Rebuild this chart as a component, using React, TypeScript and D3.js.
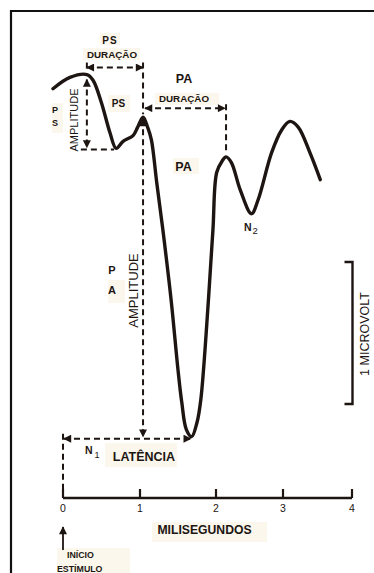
import React from 'react';
import * as d3 from 'd3';

// Evoked potential trace: time after stimulus (ms) and amplitude (µV)
const timeMs = [
  -0.13, 0.09, 0.31, 0.39, 0.5, 0.61, 0.69, 0.78, 0.91, 0.97,
  1.04, 1.1, 1.15, 1.22, 1.3, 1.41, 1.5, 1.55, 1.61, 1.68,
  1.75, 1.8, 1.9, 1.96, 2.01, 2.09, 2.15, 2.23, 2.36, 2.53,
  2.63, 2.83, 2.98, 3.1, 3.22, 3.39, 3.54,
];
const microvolts = [
  2.22, 2.3, 2.32, 2.28, 2.12, 1.91, 1.8, 1.85, 1.89, 1.95,
  2.02, 1.95, 1.86, 1.56, 1.23, 0.73, 0.24, 0.01, -0.18, -0.23,
  -0.13, 0.03, 0.73, 1.23, 1.63, 1.71, 1.74, 1.7, 1.51, 1.34,
  1.44, 1.77, 1.93, 1.99, 1.95, 1.77, 1.58,
];

const xTicks = [0, 1, 2, 3, 4];
const xTickLabels = ['0', '1', '2', '3', '4'];
const scaleBarMicrovolts = [0, 1];

// indices of the landmarks on the trace
const PS_PEAK = 2;
const PS_TROUGH = 6;
const PA_ONSET = 10;
const PA_TROUGH = 19;
const PA_PEAK = 26;
const N2_TROUGH = 29;

const INK = '#1d1512';
const CREAM = '#fbf7ec';
const FONT = '"Liberation Sans", Arial, Helvetica, sans-serif';

export default function App() {
  const W = 374;
  const H = 573;

  // hand-ruled time axis: tick spacing is not perfectly even
  const x = d3.scaleLinear().domain(xTicks).range([63, 140, 216, 283, 352]);
  const y = d3.scaleLinear().domain(scaleBarMicrovolts).range([404, 262]);

  const pts: [number, number][] = timeMs.map((t, i) => [t, microvolts[i]]);
  const line = d3
    .line<[number, number]>()
    .x((d) => x(d[0]))
    .y((d) => y(d[1]))
    .curve(d3.curveCatmullRom.alpha(0.5));

  const px = (i: number) => x(timeMs[i]);
  const py = (i: number) => y(microvolts[i]);

  const axisY = 498;
  const x0 = x(0);

  const psPeakX = px(PS_PEAK);
  const psPeakY = py(PS_PEAK);
  const psTroughX = px(PS_TROUGH);
  const psTroughY = py(PS_TROUGH);
  const paOnsetX = px(PA_ONSET);
  const paOnsetY = py(PA_ONSET);
  const paTroughX = px(PA_TROUGH);
  const paTroughY = py(PA_TROUGH);
  const paPeakX = px(PA_PEAK);
  const paPeakY = py(PA_PEAK);
  const n2X = px(N2_TROUGH);
  const n2Y = py(N2_TROUGH);

  const psDurY = psPeakY - 7;
  const paDurY = paOnsetY - 9;
  const latY = paTroughY + 2;

  const dash = { stroke: INK, strokeWidth: 2, strokeDasharray: '6 4', fill: 'none' } as const;
  const arrows = { markerStart: 'url(#arrow)', markerEnd: 'url(#arrow)' };

  const bold = { fontFamily: FONT, fontWeight: 700, fill: INK } as const;
  const reg = { fontFamily: FONT, fontWeight: 400, fill: INK } as const;

  const barX = 352.5;

  return (
    <svg
      width={W}
      height={H}
      viewBox={`0 0 ${W} ${H}`}
      style={{ position: 'absolute', left: 0, top: 0, background: '#fff' }}
    >
      <defs>
        <marker
          id="arrow"
          viewBox="0 0 10 10"
          refX="9"
          refY="5"
          markerWidth="9"
          markerHeight="8"
          markerUnits="userSpaceOnUse"
          orient="auto-start-reverse"
        >
          <path d="M0,0 L10,5 L0,10 z" fill={INK} />
        </marker>
      </defs>

      {/* frame */}
      <path d={`M11,${H} V11 H${W}`} stroke="#111" strokeWidth={2.2} fill="none" />

      {/* label backgrounds */}
      <g fill={CREAM}>
        <rect x={100} y={33} width={20} height={12} />
        <rect x={83} y={48} width={57} height={12} />
        <rect x={155} y={93} width={64} height={12} />
        <rect x={108} y={95} width={22} height={17} />
        <rect x={52} y={103} width={11} height={30} />
        <rect x={173} y={158} width={26} height={16} />
        <rect x={108} y={280} width={17} height={23} />
        <rect x={105} y={443} width={72} height={24} />
        <rect x={152} y={522} width={115} height={20} />
        <rect x={57} y={548} width={73} height={25} />
      </g>

      {/* PS duration */}
      <line x1={psPeakX} x2={psPeakX} y1={psDurY - 5} y2={psDurY + 5} {...dash} />
      <line x1={psPeakX} x2={paOnsetX} y1={psDurY} y2={psDurY} {...dash} {...arrows} />
      <line x1={paOnsetX} x2={paOnsetX} y1={psDurY - 5} y2={paOnsetY - 3} {...dash} />

      {/* PS amplitude */}
      <line x1={psPeakX} x2={psPeakX} y1={psPeakY + 5} y2={psTroughY - 1} {...dash} {...arrows} />
      <line x1={psPeakX - 6} x2={psTroughX - 2} y1={psTroughY + 1} y2={psTroughY + 1} {...dash} />

      {/* PA duration */}
      <line x1={paOnsetX + 2} x2={paPeakX - 1} y1={paDurY} y2={paDurY} {...dash} {...arrows} />
      <line x1={paPeakX} x2={paPeakX} y1={paDurY - 4} y2={paPeakY - 3} {...dash} />

      {/* PA amplitude */}
      <line x1={paOnsetX} x2={paOnsetX} y1={paOnsetY + 2} y2={paTroughY} {...dash} {...arrows} />

      {/* latency */}
      <line x1={x0} x2={x0} y1={latY - 5} y2={axisY - 9} {...dash} />
      <line x1={x0 + 1} x2={paTroughX - 1} y1={latY} y2={latY} {...dash} {...arrows} />

      {/* trace */}
      <path
        d={line(pts) ?? ''}
        fill="none"
        stroke={INK}
        strokeWidth={3.4}
        strokeLinecap="round"
        strokeLinejoin="round"
      />

      {/* time axis */}
      <line x1={x0} x2={x(4)} y1={axisY} y2={axisY} stroke={INK} strokeWidth={2.6} />
      {xTicks.map((t, i) => (
        <g key={t}>
          <line x1={x(t)} x2={x(t)} y1={axisY} y2={axisY - 9} stroke={INK} strokeWidth={2.2} />
          <text x={x(t)} y={512} textAnchor="middle" fontSize={10.5} {...reg}>
            {xTickLabels[i]}
          </text>
        </g>
      ))}
      <text x={204.5} y={534} textAnchor="middle" fontSize={12.2} {...bold}>
        MILISEGUNDOS
      </text>

      {/* stimulus onset */}
      <line x1={x0} x2={x0} y1={550} y2={527} stroke={INK} strokeWidth={1.8} markerEnd="url(#arrow)" />
      <text x={67} y={558} fontSize={8.8} {...bold}>INÍCIO</text>
      <text x={57} y={572} fontSize={8.8} {...bold}>ESTÍMULO</text>

      {/* 1 µV scale bar */}
      <path
        d={`M${barX - 8},${y(scaleBarMicrovolts[1])} H${barX} V${y(scaleBarMicrovolts[0])} H${barX - 8}`}
        fill="none"
        stroke={INK}
        strokeWidth={2.4}
      />
      <text
        transform={`translate(365,${(y(0) + y(1)) / 2 + 1}) rotate(-90)`}
        textAnchor="middle"
        dominantBaseline="central"
        fontSize={12.5}
        {...reg}
      >
        1 MICROVOLT
      </text>

      {/* labels */}
      <text x={110} y={44} textAnchor="middle" fontSize={10} letterSpacing={1} {...bold}>PS</text>
      <text x={112} y={58} textAnchor="middle" fontSize={9.8} {...reg} fontWeight={700}>DURAÇÃO</text>
      <text x={184} y={83} textAnchor="middle" fontSize={12.5} {...bold}>PA</text>
      <text x={184} y={102} textAnchor="middle" fontSize={9.8} {...bold}>DURAÇÃO</text>
      <text x={118.5} y={107} textAnchor="middle" fontSize={10} {...bold}>PS</text>
      <text x={55} y={113} textAnchor="middle" fontSize={9} {...bold}>P</text>
      <text x={55} y={126} textAnchor="middle" fontSize={9} {...bold}>S</text>
      <text
        transform={`translate(74,120) rotate(-90)`}
        textAnchor="middle"
        dominantBaseline="central"
        fontSize={11}
        {...reg}
      >
        AMPLITUDE
      </text>
      <text x={183.5} y={171} textAnchor="middle" fontSize={12.5} {...bold}>PA</text>
      <text x={112} y={274} textAnchor="middle" fontSize={11} {...bold}>P</text>
      <text x={112} y={294} textAnchor="middle" fontSize={11} {...bold}>A</text>
      <text
        transform={`translate(133.5,290.5) rotate(-90)`}
        textAnchor="middle"
        dominantBaseline="central"
        fontSize={13}
        {...reg}
      >
        AMPLITUDE
      </text>
      <text x={144} y={461} textAnchor="middle" fontSize={12.5} {...bold}>LATÊNCIA</text>
      <text x={85} y={454} fontSize={10.5} {...bold}>
        N<tspan dx={2} dy={4} fontSize={9} fontWeight={400}>1</tspan>
      </text>
      <text x={n2X - 7.5} y={n2Y + 17} fontSize={10.5} {...bold}>
        N<tspan dx={1} dy={3} fontSize={9.5} fontWeight={400}>2</tspan>
      </text>
    </svg>
  );
}
